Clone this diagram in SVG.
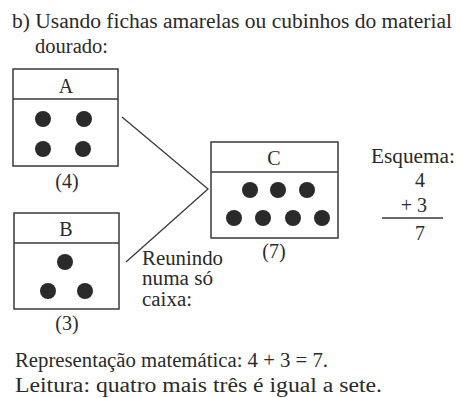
<svg xmlns="http://www.w3.org/2000/svg" width="457" height="398" viewBox="0 0 457 398">
<style>
text{font-family:'Liberation Serif','Times New Roman',Times,'Nimbus Roman','Nimbus Roman No9 L','FreeSerif','Noto Serif','DejaVu Serif',serif;font-size:20px;fill:#2a2a2a}
.box{fill:none;stroke:#3a3a3a;stroke-width:1.5}
.dot{fill:#2a2a2a}
.mid{text-anchor:middle}
.con{fill:none;stroke:#3a3a3a;stroke-width:1.3}
</style>
<rect width="457" height="398" fill="#fff"/>
<text x="12" y="28" textLength="440" lengthAdjust="spacingAndGlyphs">b) Usando fichas amarelas ou cubinhos do material</text>
<text x="35" y="53" textLength="73" lengthAdjust="spacingAndGlyphs">dourado:</text>
<g id="A">
<rect class="box" x="13" y="69" width="105" height="97"/>
<line class="box" x1="13" y1="99" x2="118" y2="99"/>
<text class="mid" x="66" y="93">A</text>
<circle class="dot" cx="43" cy="119" r="8"/><circle class="dot" cx="84" cy="119" r="8"/>
<circle class="dot" cx="43" cy="149" r="8"/><circle class="dot" cx="83" cy="149" r="8"/>
<text class="mid" x="67" y="188">(4)</text>
</g>
<g id="B">
<rect class="box" x="14" y="213" width="105" height="96"/>
<line class="box" x1="14" y1="243" x2="119" y2="243"/>
<text class="mid" x="66" y="236">B</text>
<circle class="dot" cx="65" cy="262" r="8"/>
<circle class="dot" cx="48" cy="291" r="8"/><circle class="dot" cx="85" cy="291" r="8"/>
<text class="mid" x="67" y="330">(3)</text>
</g>
<g id="C">
<rect class="box" x="211" y="142" width="127" height="96"/>
<line class="box" x1="211" y1="172" x2="338" y2="172"/>
<text class="mid" x="274" y="165">C</text>
<circle class="dot" cx="250" cy="190" r="8"/><circle class="dot" cx="278" cy="190" r="8"/><circle class="dot" cx="307" cy="190" r="8"/>
<circle class="dot" cx="234" cy="218" r="8"/><circle class="dot" cx="263" cy="218" r="8"/><circle class="dot" cx="293" cy="218" r="8"/><circle class="dot" cx="322" cy="218" r="8"/>
<text class="mid" x="274" y="258">(7)</text>
</g>
<g id="connectors">
<polyline class="con" points="122,117 208,189 126,262"/>
</g>
<g id="reunindo">
<text x="142" y="265" textLength="81" lengthAdjust="spacingAndGlyphs">Reunindo</text>
<text x="142" y="285" textLength="71" lengthAdjust="spacingAndGlyphs">numa só</text>
<text x="142" y="306" textLength="50" lengthAdjust="spacingAndGlyphs">caixa:</text>
</g>
<g id="esquema">
<text x="371" y="163" textLength="84" lengthAdjust="spacingAndGlyphs">Esquema:</text>
<text x="420" y="187" class="mid">4</text>
<text x="427" y="212" text-anchor="end">+ 3</text>
<line x1="382" y1="218" x2="443" y2="218" stroke="#3a3a3a" stroke-width="1.3"/>
<text x="420" y="240" class="mid">7</text>
</g>
<text x="15" y="367" textLength="313" lengthAdjust="spacingAndGlyphs">Representação matemática: 4 + 3 = 7.</text>
<text x="15" y="392" textLength="367" lengthAdjust="spacingAndGlyphs">Leitura: quatro mais três é igual a sete.</text>
</svg>
